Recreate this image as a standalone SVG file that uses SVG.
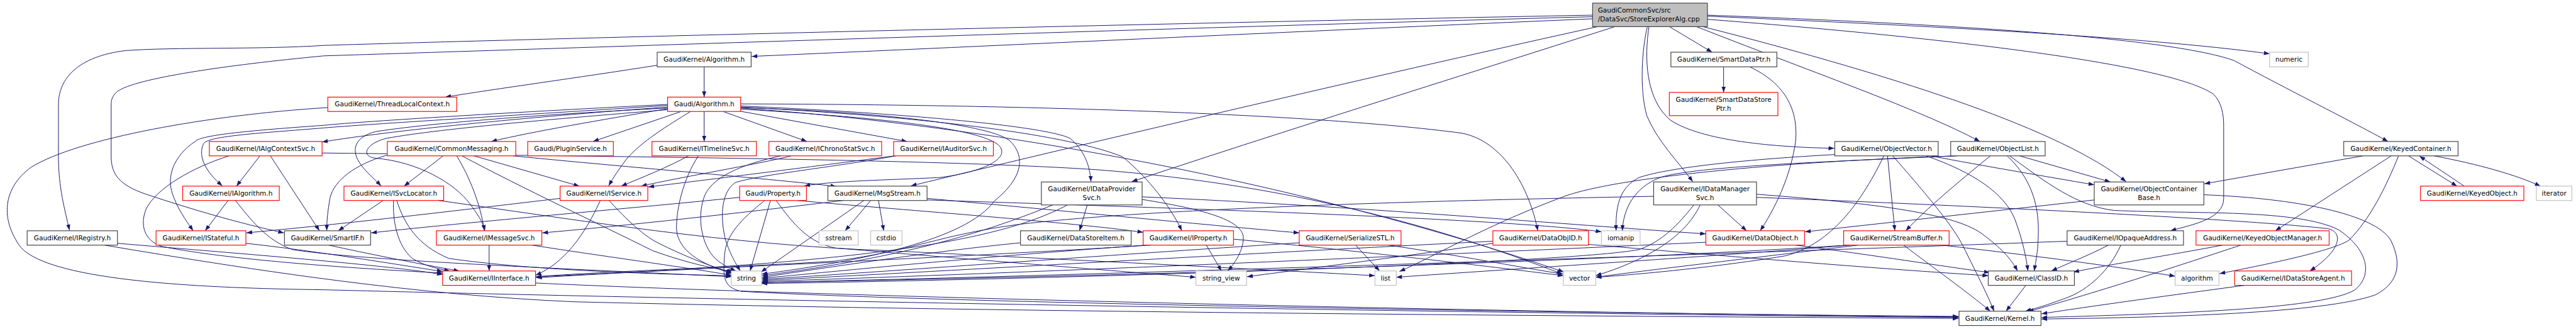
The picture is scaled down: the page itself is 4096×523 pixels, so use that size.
<svg xmlns="http://www.w3.org/2000/svg" width="4096" height="523" viewBox="0 0 4096 523">
<style>
.e{fill:none;stroke:#191970;stroke-width:1.2;marker-end:url(#a)}
.b{fill:#fff;stroke:#404040;stroke-width:1.4}
.r{fill:#fff;stroke:#ff0000;stroke-width:1.4}
.g{fill:#fff;stroke:#bfbfbf;stroke-width:1.4}
.m{fill:#bfbfbf;stroke:#404040;stroke-width:1.4}
text{font-family:"DejaVu Sans","Noto Sans",sans-serif;font-size:12.7px;fill:#000;text-anchor:middle}
text.l{text-anchor:start}
</style>
<defs>
<marker id="a" viewBox="0 0 11 8" refX="11" refY="4" markerWidth="11" markerHeight="8" markerUnits="userSpaceOnUse" orient="auto"><path d="M0,0 L11,4 L0,8 z" fill="#191970"/></marker>
</defs>
<rect x="0" y="0" width="4096" height="523" fill="#fff"/>
<g transform="scale(0.83)">
<g id="edges">
<path class="e" d="M3051,36 C2600,55 1900,88 1440,108"/>
<path class="e" d="M3051,29 C2200,45 1000,75 620,87 C500,95 330,90 240,97 C150,108 112,150 112,200 L112,300 C112,360 124,400 133,441"/>
<path class="e" d="M3051,32 C2200,55 1000,95 620,107 C430,125 260,150 225,175 C213,185 213,195 213,200 L213,300 C213,335 230,355 280,372 C370,402 460,428 544,446"/>
<path class="e" d="M3061,51 C2700,130 2100,270 1745,356"/>
<path class="e" d="M3094,51 C2800,145 2400,270 2168,348"/>
<path class="e" d="M3198,51 L3280,100"/>
<path class="e" d="M3156,51 C3146,90 3140,170 3155,222 C3175,270 3215,310 3243,348"/>
<path class="e" d="M3159,51 C3150,110 3152,190 3200,230 C3260,270 3400,282 3514,284"/>
<path class="e" d="M3250,51 C3450,130 3680,210 3793,271"/>
<path class="e" d="M3262,51 C3650,150 3950,250 4073,348"/>
<path class="e" d="M3271,31 C3700,50 4100,70 4348,103"/>
<path class="e" d="M3271,29 C3700,45 4150,70 4280,116 C4380,170 4500,230 4575,271"/>
<path class="e" d="M3271,37 C3700,70 4150,120 4240,180 C4256,195 4260,220 4260,240 L4260,380 C4260,420 4200,430 4158,442"/>
<path class="e" d="M1349,128 L1349,186"/>
<path class="e" d="M1259,125 C1100,150 950,170 853,186"/>
<path class="e" d="M628,206 C400,220 150,265 60,320 C5,360 0,420 40,474 C100,540 400,552 620,555 C1500,578 3000,602 3752,608"/>
<path class="e" d="M1279,205 C1000,225 750,250 617,272"/>
<path class="e" d="M1279,202 C1000,220 700,238 620,245 C500,255 400,260 390,275 C378,300 395,330 426,356"/>
<path class="e" d="M1279,200 C1000,214 700,232 620,240 C480,250 390,258 375,270 C330,300 320,340 330,370 C340,400 355,420 370,442"/>
<path class="e" d="M1279,207 C1100,216 850,232 720,252 C680,262 675,285 685,305 C695,325 715,340 730,356"/>
<path class="e" d="M1280,210 C1100,225 850,245 740,265 C700,275 690,300 720,303 C800,310 870,350 900,390 C915,410 925,425 929,442"/>
<path class="e" d="M1280,208 C1150,230 1020,252 941,271"/>
<path class="e" d="M1305,213.5 L1136,271"/>
<path class="e" d="M1323,213.5 C1280,240 1230,270 1200,305 C1185,325 1175,340 1166,356"/>
<path class="e" d="M1349,213.5 L1349,271"/>
<path class="e" d="M1385,213.5 L1546,271"/>
<path class="e" d="M1418,213 L1738,271"/>
<path class="e" d="M1419,199 C1900,200 2500,215 2800,255 C2880,270 2930,360 2946,442"/>
<path class="e" d="M1419,203 C1700,215 2000,240 2050,265 C2075,285 2088,315 2090,348"/>
<path class="e" d="M1419,205 C1800,225 2050,260 2150,300 C2200,340 2245,400 2264,442"/>
<path class="e" d="M1419,207 C1900,240 2500,350 2996,521"/>
<path class="e" d="M1419,209 C1600,220 1880,240 1915,280 C1935,305 1880,330 1800,340 C1700,345 1600,346 1541,356"/>
<path class="e" d="M1419,206 C1700,215 1900,240 1935,270 C1965,300 1960,340 1905,385 C1850,460 1650,500 1459,525"/>
<path class="e" d="M498,298.5 L453,356.5"/>
<path class="e" d="M518,298.5 L612,442"/>
<path class="e" d="M439,298.5 C370,320 300,360 280,400 C268,430 275,460 310,472 C450,500 700,515 848,523"/>
<path class="e" d="M617,293 C1200,300 1800,305 2100,325 C2500,355 2800,450 2993,525"/>
<path class="e" d="M437,384 L393,442"/>
<path class="e" d="M451,384 C480,420 510,460 560,478 C700,500 1100,515 1401,530"/>
<path class="e" d="M471,466 C600,480 750,505 848,520"/>
<path class="e" d="M225,466 C450,485 750,508 848,526"/>
<path class="e" d="M200,469.5 C500,520 800,565 1100,578 C2000,600 3200,606 3752,610"/>
<path class="e" d="M630,469.5 C700,485 800,505 880,519"/>
<path class="e" d="M734,384 L648,442"/>
<path class="e" d="M754,384 C752,420 760,470 790,495 C815,510 840,515 862,519"/>
<path class="e" d="M760,384 C775,430 800,470 860,495 C1000,515 1200,524 1401,528"/>
<path class="e" d="M840,384 C1100,420 1400,470 1700,480 C2100,500 2400,515 2634,528"/>
<path class="e" d="M849,298.5 L774,356.5"/>
<path class="e" d="M875,298.5 C900,340 920,390 928,442"/>
<path class="e" d="M908,298.5 L1110,356.5"/>
<path class="e" d="M742,297 C680,315 640,345 632,380 C628,405 626,420 626,442"/>
<path class="e" d="M983,298.5 C1200,320 1450,340 1602,357"/>
<path class="e" d="M885,298.5 C1000,360 1150,430 1250,480 C1320,505 1370,515 1405,520"/>
<path class="e" d="M1073,380 C900,400 700,425 472,446"/>
<path class="e" d="M1167,384 C1190,410 1230,450 1260,465 C1310,490 1360,510 1402,522"/>
<path class="e" d="M1150,384 C1120,450 1080,505 1026,527"/>
<path class="e" d="M1319,298.5 C1280,320 1230,340 1190,356.5"/>
<path class="e" d="M1338,298.5 C1310,340 1295,400 1296,440 C1300,480 1340,505 1403,524"/>
<path class="e" d="M1516,298.5 C1450,315 1300,340 1228,356.5"/>
<path class="e" d="M1496,298.5 C1420,315 1360,340 1348,380 C1335,420 1345,470 1370,495 C1385,508 1400,515 1410,519"/>
<path class="e" d="M1714,298.5 C1550,320 1350,345 1242,358"/>
<path class="e" d="M1716,298.5 C1600,320 1450,335 1408,350 C1380,370 1380,420 1390,460 C1400,490 1410,505 1418,519"/>
<path class="e" d="M1476,384 L1437,519"/>
<path class="e" d="M1417,378 C1200,400 900,425 711,446"/>
<path class="e" d="M1528,384 C1700,400 2050,425 2190,445"/>
<path class="e" d="M1465,384 C1420,420 1390,450 1388,490 C1385,530 1385,550 1420,558 C1800,580 3000,600 3752,606"/>
<path class="e" d="M1487,384 C1520,430 1550,465 1600,475 C1900,500 2150,520 2291,531"/>
<path class="e" d="M1615,384 C1400,410 1200,432 1039,446"/>
<path class="e" d="M1668,384 L1619,442"/>
<path class="e" d="M1683,384 L1693,442"/>
<path class="e" d="M1655,384 L1458,521"/>
<path class="e" d="M1776,380 C2000,400 2300,430 2489,446"/>
<path class="e" d="M1776,383 C2300,400 2900,420 3068,444"/>
<path class="e" d="M2083,392.5 L2068,442"/>
<path class="e" d="M2017,392.5 C1900,440 1750,490 1460,528"/>
<path class="e" d="M2045,392.5 C1900,470 1600,505 1027,530"/>
<path class="e" d="M2188,382 C2300,400 2380,420 2382,455 C2382,480 2365,505 2352,519"/>
<path class="e" d="M2188,377 C2600,395 3000,430 3268,448"/>
<path class="e" d="M1955,465 C1800,480 1600,510 1460,531"/>
<path class="e" d="M2311,469.5 L2340,519"/>
<path class="e" d="M2195,469.5 C1900,490 1650,515 1460,533"/>
<path class="e" d="M2205,469.5 C1800,495 1300,515 1027,532"/>
<path class="e" d="M2363,458 C2600,480 2850,510 2995,528"/>
<path class="e" d="M2597,469.5 L2643,519"/>
<path class="e" d="M2660,469.5 C2800,490 2900,510 2995,525"/>
<path class="e" d="M2489,465 C2100,490 1700,520 1460,535"/>
<path class="e" d="M2860,462 C2300,490 1800,520 1460,537"/>
<path class="e" d="M3043,468 C3300,490 3600,515 3809,528"/>
<path class="e" d="M2860,466 C2700,490 2500,515 2389,530"/>
<path class="e" d="M3268,464 C2600,495 1900,525 1460,539"/>
<path class="e" d="M3440,469.5 C3600,490 3720,510 3812,522"/>
<path class="e" d="M3647,469.5 C3700,510 3770,560 3813,596"/>
<path class="e" d="M3720,469.5 C3900,490 4050,510 4167,529"/>
<path class="e" d="M3545,469.5 C3300,490 2900,515 2675,531"/>
<path class="e" d="M3560,469.5 C3350,495 3150,518 3057,531"/>
<path class="e" d="M3540,469.5 C3000,505 2000,532 1459,541"/>
<path class="e" d="M3291,392.5 L3346,442"/>
<path class="e" d="M3257,392.5 C3235,440 3180,490 3057,528"/>
<path class="e" d="M3245,392.5 C3215,430 3185,462 3140,478 C3000,505 2000,535 1459,543"/>
<path class="e" d="M3168,376 C2700,385 2200,400 1950,430 C1800,450 1750,480 1600,500 C1450,510 1150,520 1027,530"/>
<path class="e" d="M3365,372 C3600,390 3750,410 3800,450 C3840,480 3855,500 3865,519"/>
<path class="e" d="M3365,378 C3800,395 4300,420 4460,438 C4490,445 4485,480 4425,519"/>
<path class="e" d="M3699,298.5 C3800,318 3920,338 4012,354"/>
<path class="e" d="M3616,298.5 L3630,442"/>
<path class="e" d="M3690,298.5 C3780,330 3840,370 3860,420 C3875,460 3882,495 3885,519"/>
<path class="e" d="M3626,298.5 C3680,360 3740,430 3760,470 C3790,530 3810,570 3820,596"/>
<path class="e" d="M3609,298.5 C3560,400 3500,470 3420,490 C3300,510 3150,525 3057,531"/>
<path class="e" d="M3515,296 C3350,305 3200,320 3140,340 C3100,360 3095,400 3096,442"/>
<path class="e" d="M3745,298.5 C3500,310 3250,318 3180,340 C3130,360 3110,400 3108,442"/>
<path class="e" d="M3750,298.5 C3400,310 3100,340 3000,375 C2850,430 2750,490 2681,520"/>
<path class="e" d="M3869,298.5 L4043,348.5"/>
<path class="e" d="M3813,298.5 C3750,350 3690,400 3651,442"/>
<path class="e" d="M3845,298.5 C3890,340 3905,390 3905,440 C3905,480 3900,500 3897,519"/>
<path class="e" d="M3850,298.5 C3920,350 3980,395 4050,403 C4200,410 4400,400 4480,440 C4540,480 4545,530 4510,556 C4450,590 4200,600 3911,608"/>
<path class="e" d="M4012,383 L3458,444"/>
<path class="e" d="M4222,373 C4400,380 4550,410 4580,460 C4605,510 4590,545 4550,565 C4450,600 4150,608 3911,611"/>
<path class="e" d="M4039,469.5 C4000,490 3960,505 3930,519"/>
<path class="e" d="M4063,469.5 C4040,520 4000,555 3960,570 C3920,585 3895,592 3880,596"/>
<path class="e" d="M3960,462 C3200,490 2000,530 1459,541"/>
<path class="e" d="M4258,469.5 C4150,490 4050,505 3972,521"/>
<path class="e" d="M4293,469.5 C4200,500 4050,550 3885,597"/>
<path class="e" d="M4300,546.5 C4200,560 4050,580 3911,601"/>
<path class="e" d="M3881,546.5 L3843,596"/>
<path class="e" d="M4527,298.5 L4223,352"/>
<path class="e" d="M4581,298.5 L4359,442"/>
<path class="e" d="M4614,298.5 L4707,356.5"/>
<path class="e" d="M4721,356.5 L4635,299"/>
<path class="e" d="M4663,298.5 C4750,315 4820,335 4867,356.5"/>
<path class="e" d="M4595,298.5 C4570,360 4540,420 4500,460 C4470,480 4350,505 4252,524"/>
<path class="e" d="M3302,128 L3302,177"/>
<path class="e" d="M3352,128 C3420,160 3445,210 3440,270 C3430,340 3400,400 3372,442"/>
<path class="e" d="M1026,542 C1500,565 2800,598 3752,607"/>
<path class="e" d="M937,469.5 L937,519"/>
<path class="e" d="M1019,469.5 C1150,490 1300,510 1401,527"/>
</g>
<g id="n_main"><rect class="m" x="3051" y="6" width="220" height="45"/><text class="l" x="3061" y="24">GaudiCommonSvc/src</text><text class="l" x="3061" y="41.5">/DataSvc/StoreExplorerAlg.cpp</text></g>
<g id="n_alg"><rect class="b" x="1259" y="100" width="180" height="28"/><text x="1349" y="118.5">GaudiKernel/Algorithm.h</text></g>
<g id="n_gaudialg"><rect class="r" x="1279" y="186" width="140" height="27.5"/><text x="1349" y="204">Gaudi/Algorithm.h</text></g>
<g id="n_tlc"><rect class="r" x="628" y="186" width="247" height="27.5"/><text x="751.5" y="204">GaudiKernel/ThreadLocalContext.h</text></g>
<g id="n_sdp"><rect class="b" x="3201" y="100" width="203" height="28"/><text x="3302.5" y="118.5">GaudiKernel/SmartDataPtr.h</text></g>
<g id="n_sdsp"><rect class="r" x="3198" y="177" width="208" height="44.5"/><text x="3302" y="195">GaudiKernel/SmartDataStore</text><text x="3302" y="212">Ptr.h</text></g>
<g id="n_numeric"><rect class="g" x="4348" y="100" width="74" height="28"/><text x="4385" y="118.5">numeric</text></g>
<g id="n_iacs"><rect class="r" x="401" y="271" width="216" height="27.5"/><text x="509" y="289.3">GaudiKernel/IAlgContextSvc.h</text></g>
<g id="n_cm"><rect class="r" x="742" y="271" width="246" height="27.5"/><text x="865" y="289.3">GaudiKernel/CommonMessaging.h</text></g>
<g id="n_plugin"><rect class="r" x="1011" y="271" width="164" height="27.5"/><text x="1093" y="289.3">Gaudi/PluginService.h</text></g>
<g id="n_its"><rect class="r" x="1249" y="271" width="200" height="27.5"/><text x="1349" y="289.3">GaudiKernel/ITimelineSvc.h</text></g>
<g id="n_ics"><rect class="r" x="1473" y="271" width="216" height="27.5"/><text x="1581" y="289.3">GaudiKernel/IChronoStatSvc.h</text></g>
<g id="n_iaud"><rect class="r" x="1712" y="271" width="191" height="27.5"/><text x="1807.5" y="289.3">GaudiKernel/IAuditorSvc.h</text></g>
<g id="n_ov"><rect class="b" x="3515" y="271" width="198" height="27.5"/><text x="3614" y="289.3">GaudiKernel/ObjectVector.h</text></g>
<g id="n_ol"><rect class="b" x="3737" y="271" width="181" height="27.5"/><text x="3827.5" y="289.3">GaudiKernel/ObjectList.h</text></g>
<g id="n_kc"><rect class="b" x="4490" y="271" width="219" height="27.5"/><text x="4599.5" y="289.3">GaudiKernel/KeyedContainer.h</text></g>
<g id="n_ialg"><rect class="r" x="350" y="356.5" width="185" height="27.5"/><text x="442.5" y="374.5">GaudiKernel/IAlgorithm.h</text></g>
<g id="n_isl"><rect class="r" x="659" y="356.5" width="191" height="27.5"/><text x="754.5" y="374.5">GaudiKernel/ISvcLocator.h</text></g>
<g id="n_isvc"><rect class="r" x="1073" y="356.5" width="168" height="27.5"/><text x="1157" y="374.5">GaudiKernel/IService.h</text></g>
<g id="n_prop"><rect class="r" x="1417" y="356.5" width="128" height="27.5"/><text x="1481" y="374.5">Gaudi/Property.h</text></g>
<g id="n_msg"><rect class="b" x="1586" y="356.5" width="190" height="27.5"/><text x="1681" y="374.5">GaudiKernel/MsgStream.h</text></g>
<g id="n_ko"><rect class="r" x="4637" y="356.5" width="198" height="27.5"/><text x="4736" y="374.5">GaudiKernel/KeyedObject.h</text></g>
<g id="n_iter"><rect class="g" x="4859" y="356.5" width="68" height="27.5"/><text x="4893" y="374.5">iterator</text></g>
<g id="n_idp"><rect class="b" x="1995" y="348.5" width="193" height="44"/><text x="2091.5" y="366">GaudiKernel/IDataProvider</text><text x="2091.5" y="383">Svc.h</text></g>
<g id="n_idm"><rect class="b" x="3168" y="348.5" width="197" height="44"/><text x="3266.5" y="366">GaudiKernel/IDataManager</text><text x="3266.5" y="383">Svc.h</text></g>
<g id="n_ocb"><rect class="b" x="4012" y="348.5" width="210" height="44"/><text x="4117" y="366">GaudiKernel/ObjectContainer</text><text x="4117" y="383">Base.h</text></g>
<g id="n_ireg"><rect class="b" x="52" y="442" width="173" height="27.5"/><text x="138.5" y="460.3">GaudiKernel/IRegistry.h</text></g>
<g id="n_istate"><rect class="r" x="299" y="442" width="172" height="27.5"/><text x="385" y="460.3">GaudiKernel/IStateful.h</text></g>
<g id="n_smartif"><rect class="b" x="545" y="442" width="165" height="27.5"/><text x="627.5" y="460.3">GaudiKernel/SmartIF.h</text></g>
<g id="n_ims"><rect class="r" x="836" y="442" width="202" height="27.5"/><text x="937" y="460.3">GaudiKernel/IMessageSvc.h</text></g>
<g id="n_sstream"><rect class="g" x="1569" y="442" width="75" height="27.5"/><text x="1606.5" y="460.3">sstream</text></g>
<g id="n_cstdio"><rect class="g" x="1668" y="442" width="60" height="27.5"/><text x="1698" y="460.3">cstdio</text></g>
<g id="n_dsi"><rect class="b" x="1955" y="442" width="212" height="27.5"/><text x="2061" y="460.3">GaudiKernel/DataStoreItem.h</text></g>
<g id="n_iprop"><rect class="r" x="2190" y="442" width="173" height="27.5"/><text x="2276.5" y="460.3">GaudiKernel/IProperty.h</text></g>
<g id="n_ser"><rect class="r" x="2489" y="442" width="195" height="27.5"/><text x="2586.5" y="460.3">GaudiKernel/SerializeSTL.h</text></g>
<g id="n_doid"><rect class="r" x="2860" y="442" width="183" height="27.5"/><text x="2951.5" y="460.3">GaudiKernel/DataObjID.h</text></g>
<g id="n_iomanip"><rect class="g" x="3068" y="442" width="74" height="27.5"/><text x="3105" y="460.3">iomanip</text></g>
<g id="n_do"><rect class="r" x="3268" y="442" width="189" height="27.5"/><text x="3362.5" y="460.3">GaudiKernel/DataObject.h</text></g>
<g id="n_sb"><rect class="r" x="3532" y="442" width="202" height="27.5"/><text x="3633" y="460.3">GaudiKernel/StreamBuffer.h</text></g>
<g id="n_ioa"><rect class="b" x="3960" y="442" width="223" height="27.5"/><text x="4071.5" y="460.3">GaudiKernel/IOpaqueAddress.h</text></g>
<g id="n_kom"><rect class="r" x="4207" y="442" width="255" height="27.5"/><text x="4334.5" y="460.3">GaudiKernel/KeyedObjectManager.h</text></g>
<g id="n_iif"><rect class="r" x="848" y="519" width="178" height="27.5"/><text x="937" y="537.3">GaudiKernel/IInterface.h</text></g>
<g id="n_string"><rect class="g" x="1401" y="519" width="58" height="27.5"/><text x="1430" y="537.3">string</text></g>
<g id="n_sv"><rect class="g" x="2291" y="519" width="97" height="27.5"/><text x="2339.5" y="537.3">string_view</text></g>
<g id="n_list"><rect class="g" x="2634" y="519" width="41" height="27.5"/><text x="2654.5" y="537.3">list</text></g>
<g id="n_vector"><rect class="g" x="2995" y="519" width="62" height="27.5"/><text x="3026" y="537.3">vector</text></g>
<g id="n_classid"><rect class="b" x="3809" y="519" width="165" height="27.5"/><text x="3891.5" y="537.3">GaudiKernel/ClassID.h</text></g>
<g id="n_algorithm"><rect class="g" x="4167" y="519" width="84" height="27.5"/><text x="4209" y="537.3">algorithm</text></g>
<g id="n_idsa"><rect class="r" x="4281" y="519" width="224" height="27.5"/><text x="4393" y="537.3">GaudiKernel/IDataStoreAgent.h</text></g>
<g id="n_kernel"><rect class="b" x="3753" y="596" width="157" height="27.5"/><text x="3831.5" y="614.3">GaudiKernel/Kernel.h</text></g>
</g>
</svg>
